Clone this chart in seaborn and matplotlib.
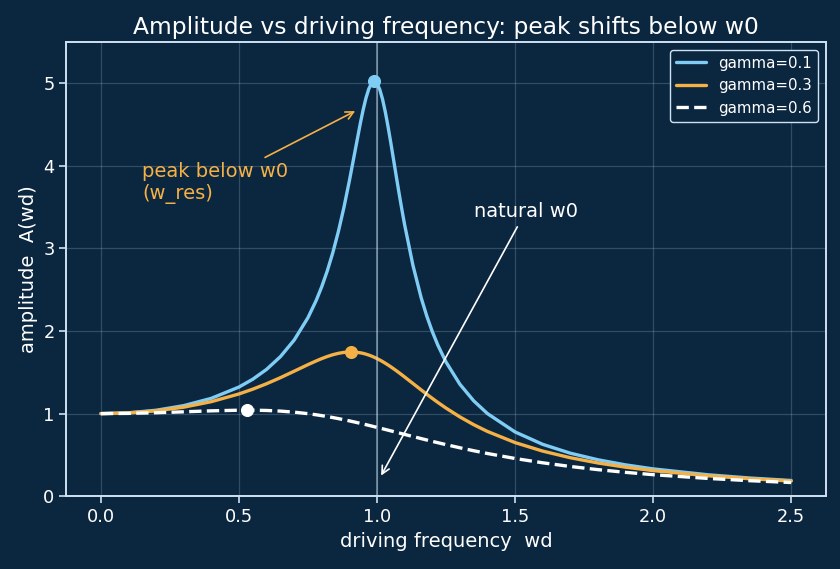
import matplotlib
matplotlib.use("Agg")
import matplotlib.pyplot as plt
import seaborn as sns
import pandas as pd

# driving frequency samples (denser near resonance)
wd = [0.0, 0.1, 0.2, 0.3, 0.4, 0.5, 0.55, 0.6, 0.65, 0.7, 0.75, 0.78, 0.8, 0.82,
      0.84, 0.86, 0.88, 0.9, 0.92, 0.94, 0.95, 0.96, 0.97, 0.98, 0.99, 1.0, 1.01,
      1.02, 1.03, 1.04, 1.05, 1.06, 1.07, 1.08, 1.09, 1.1, 1.13, 1.16, 1.18, 1.2,
      1.22, 1.25, 1.3, 1.35, 1.4, 1.5, 1.6, 1.7, 1.8, 1.9, 2.0, 2.2, 2.35, 2.5]

amp_g01 = [1.0, 1.0099, 1.0408, 1.0965, 1.1851, 1.3216, 1.4162, 1.5357, 1.6893,
           1.8908, 2.1622, 2.3723, 2.5384, 2.7296, 2.9502, 3.2043, 3.4949, 3.8208,
           4.1721, 4.5225, 4.6826, 4.8218, 4.9309, 5.0010, 5.0252, 5.0, 4.9261,
           4.8086, 4.6552, 4.4756, 4.2794, 4.0750, 3.8694, 3.6675, 3.4730, 3.2880,
           2.7978, 2.4024, 2.1839, 1.9952, 1.8316, 1.6246, 1.3562, 1.1552, 1.0,
           0.7779, 0.6279, 0.5207, 0.4408, 0.3791, 0.3304, 0.2587, 0.2199, 0.1896]
amp_g03 = [1.0, 1.0082, 1.0336, 1.0780, 1.1447, 1.2380, 1.2960, 1.3618, 1.4350,
           1.5136, 1.5933, 1.6387, 1.6667, 1.6918, 1.7133, 1.7301, 1.7416, 1.7469,
           1.7453, 1.7364, 1.7293, 1.7203, 1.7094, 1.6968, 1.6826, 1.6667, 1.6493,
           1.6304, 1.6103, 1.5890, 1.5667, 1.5434, 1.5194, 1.4947, 1.4695, 1.4438,
           1.3654, 1.2869, 1.2354, 1.1851, 1.1364, 1.0667, 0.9603, 0.8663, 0.7839,
           0.6492, 0.5459, 0.4656, 0.4021, 0.3511, 0.3095, 0.2463, 0.2111, 0.1831]
amp_g06 = [1.0, 1.0028, 1.0106, 1.0218, 1.0336, 1.0412, 1.0414, 1.0381, 1.0304,
           1.0176, 0.9993, 0.9856, 0.9753, 0.9642, 0.9523, 0.9395, 0.9261, 0.9119,
           0.8972, 0.8818, 0.8740, 0.8661, 0.8580, 0.8499, 0.8416, 0.8333, 0.8250,
           0.8166, 0.8081, 0.7996, 0.7910, 0.7825, 0.7739, 0.7653, 0.7567, 0.7482,
           0.7226, 0.6972, 0.6806, 0.6641, 0.6480, 0.6242, 0.5862, 0.5504, 0.5168,
           0.4563, 0.4042, 0.3596, 0.3214, 0.2885, 0.2603, 0.2146, 0.1876, 0.1654]

labels = ["gamma=0.1", "gamma=0.3", "gamma=0.6"]
colors = ["#7fcdf5", "#f5b046", "#ffffff"]
styles = ["-", "-", "--"]

# resonance peaks
peak_w = [0.99, 0.906, 0.529]
peak_a = [5.025, 1.747, 1.042]

bg = "#0b2740"
fg = "#cfe2f3"

sns.set_theme(style="dark", rc={
    "figure.facecolor": bg, "axes.facecolor": bg, "axes.edgecolor": fg,
    "axes.labelcolor": "white", "xtick.color": fg, "ytick.color": fg,
    "text.color": "white", "grid.color": fg,
})
plt.rcParams["font.family"] = ["DejaVu Sans"]

fig, ax = plt.subplots(figsize=(8.4, 5.69), dpi=100)
fig.subplots_adjust(left=0.079, right=0.983, top=0.926, bottom=0.128)

df = pd.DataFrame({"wd": wd, "gamma=0.1": amp_g01, "gamma=0.3": amp_g03,
                   "gamma=0.6": amp_g06})
for lab, c, ls in zip(labels, colors, styles):
    sns.lineplot(data=df, x="wd", y=lab, ax=ax, color=c, linestyle=ls,
                 linewidth=2.4, label=lab)

for w, a, c in zip(peak_w, peak_a, colors):
    ax.plot(w, a, "o", color=c, markersize=8.4, zorder=5)

ax.axvline(1.0, color=fg, alpha=0.55, linewidth=1.2)
ax.grid(True, alpha=0.2, linewidth=0.9)
for s in ax.spines.values():
    s.set_color(fg)
    s.set_linewidth(1.4)
ax.tick_params(axis="both", which="both", length=5, width=1.2, labelsize=12.8,
               labelcolor="white", bottom=True, left=True)

ax.set_ylim(0, 5.5)
ax.set_xticks([0.0, 0.5, 1.0, 1.5, 2.0, 2.5])
ax.set_xlabel("driving frequency  wd", fontsize=14)
ax.set_ylabel("amplitude  A(wd)", fontsize=14)
ax.set_title("Amplitude vs driving frequency: peak shifts below w0",
             fontsize=16.8, color="white")

ax.annotate("peak below w0\n(w_res)", xy=(0.93, 4.68), xytext=(0.15, 3.6),
            color="#f5b046", fontsize=14,
            arrowprops=dict(arrowstyle="->", color="#f5b046", lw=1.2))
ax.annotate("natural w0", xy=(1.01, 0.22), xytext=(1.35, 3.38),
            color="white", fontsize=14,
            arrowprops=dict(arrowstyle="->", color="white", lw=1.2))

leg = ax.legend(loc="upper right", fontsize=10.8, facecolor=bg, edgecolor=fg,
                framealpha=1)
for t in leg.get_texts():
    t.set_color("white")

plt.savefig("out.png", dpi=100, facecolor=bg)
